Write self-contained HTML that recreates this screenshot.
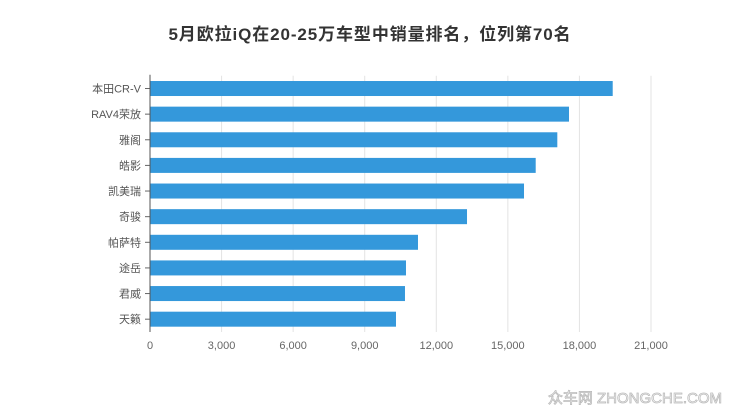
<!DOCTYPE html>
<html><head><meta charset="utf-8"><style>
body{margin:0;background:#fff;}
svg{display:block;font-family:"Liberation Sans","Noto Sans CJK SC",sans-serif;}
</style></head><body>
<svg id="c" width="740" height="417">
<text x="370" y="40" text-anchor="middle" font-size="17" font-weight="bold" letter-spacing="0.9" fill="#333">5月欧拉iQ在20-25万车型中销量排名，位列第70名</text>
<g id="grid"></g><g id="bars"></g><g id="axes"></g>
<text x="722" y="403" text-anchor="end" font-size="15" fill="#fff" stroke="#bbb" stroke-width="0.8">众车网 ZHONGCHE.COM</text>
</svg>
<script>
const categories=["本田CR-V","RAV4荣放","雅阁","皓影","凯美瑞","奇骏","帕萨特","途岳","君威","天籁"];
const values=[19395,17563,17073,16167,15677,13288,11233,10730,10688,10311];
const ticks=[0,3000,6000,9000,12000,15000,18000,21000];
const tickLabels=["0","3,000","6,000","9,000","12,000","15,000","18,000","21,000"];
const X0=150,W=501,MAX=21000,TOP=75.7,BAND=25.63,BH=15;
const x=v=>X0+v/MAX*W;
const y=i=>TOP+i*BAND+(BAND-BH)/2;
const NS="http://www.w3.org/2000/svg";
function mk(t,a,p){const e=document.createElementNS(NS,t);for(const k in a)e.setAttribute(k,a[k]);p.appendChild(e);return e;}
const G=document.getElementById('grid'),B=document.getElementById('bars'),A=document.getElementById('axes');
const bottom=TOP+categories.length*BAND;
ticks.forEach((t,i)=>{
 if(i>0){const l=mk('line',{x1:x(t),x2:x(t),y1:TOP,y2:bottom,stroke:'#e3e3e3','stroke-width':1},G);
 
 }
 const tx=mk('text',{x:x(t),y:bottom+17,'text-anchor':'middle','font-size':11,fill:'#666'},A);
 tx.textContent=tickLabels[i];
 
 
});
categories.forEach((c,i)=>{
 const r=mk('rect',{x:X0,y:y(i),width:x(values[i])-X0,height:BH,fill:'#3498db'},B);
 
 
 const cy=TOP+i*BAND+BAND/2;
 const tk=mk('line',{x1:X0-5,x2:X0,y1:cy,y2:cy,stroke:'#666'},A);
 
 
 const t=mk('text',{x:X0-9,y:cy+4,'text-anchor':'end','font-size':11,fill:'#555'},A);
 t.textContent=c;
 
 
});
const ax=mk('line',{x1:X0,x2:X0,y1:TOP-1,y2:bottom,stroke:'#555','stroke-width':1},A);


</script>
</body></html>
